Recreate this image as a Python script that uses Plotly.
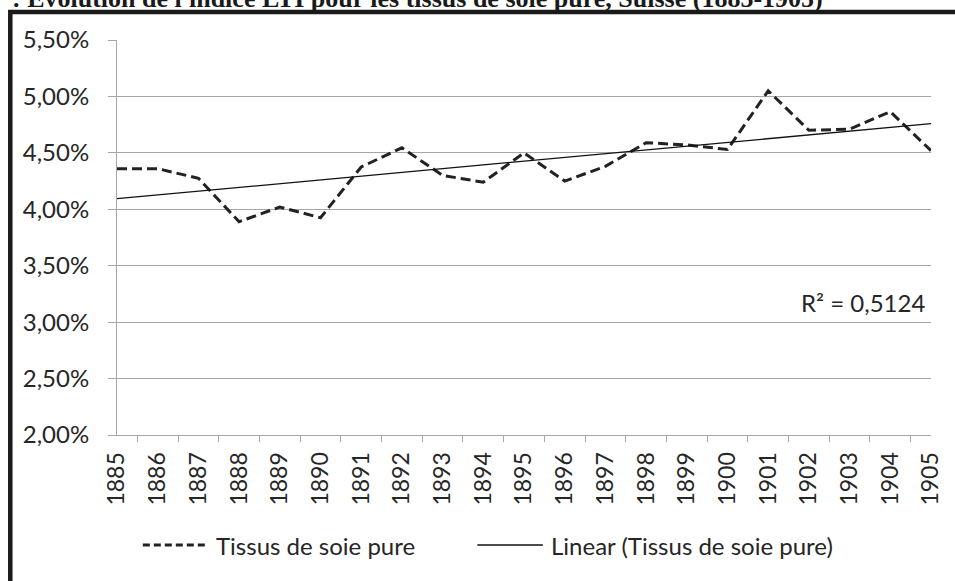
import numpy as np
import plotly.graph_objects as go

# ---- data ----
years = [str(y) for y in range(1885, 1906)]
soie_pure = [4.36, 4.36, 4.275, 3.89, 4.02, 3.925, 4.375, 4.545, 4.30, 4.24, 4.50,
             4.25, 4.38, 4.59, 4.57, 4.53, 5.05, 4.70, 4.71, 4.865, 4.52]  # percent
series_name = "Tissus de soie pure"
trend_name = "Linear (Tissus de soie pure)"
r2_label = "R² = 0,5124"
title_text = ": Evolution de l'indice LTI pour les tissus de soie pure, Suisse (1885-1905)"
y_ticks = [0.02, 0.025, 0.03, 0.035, 0.04, 0.045, 0.05, 0.055]

vals = np.array(soie_pure) / 100.0
idx = np.arange(len(years))
slope, intercept = np.polyfit(idx, vals, 1)
trend = intercept + slope * idx

W, H = 955, 581
L, R, T, B = 117, 18, 40, 146
pw, ph = W - L - R, H - T - B


def px(X):
    return (X - L) / pw


def py(Y):
    return (H - B - Y) / ph


font = "Lato, Calibri, Carlito, sans-serif"
txt = "#262626"
grid = "#a6a6a6"

fig = go.Figure()
fig.add_trace(go.Scatter(x=years, y=vals, mode="lines", name=series_name,
                         line=dict(color="#222222", width=3, dash="10px,5px"),
                         showlegend=False, hoverinfo="x+y"))
fig.add_trace(go.Scatter(x=years, y=trend, mode="lines", name=trend_name,
                         line=dict(color="#111111", width=1.3),
                         showlegend=False))

fig.update_layout(
    width=W, height=H,
    margin=dict(l=L, r=R, t=T, b=B, pad=0),
    paper_bgcolor="white", plot_bgcolor="white",
    separators=", ",
    font=dict(family=font, size=24, color=txt),
    showlegend=False,
)
fig.update_xaxes(type="category", showgrid=False, showline=True, linecolor=grid,
                 linewidth=1, ticks="outside", ticklen=6, tickcolor=grid,
                 tickson="boundaries", tickangle=-90, zeroline=False,
                 tickfont=dict(family=font, size=23, color=txt),
                 ticklabelstandoff=7)
fig.update_yaxes(range=[0.02, 0.055], tickvals=y_ticks, tickformat=".2%",
                 showgrid=True, gridcolor=grid, gridwidth=1, showline=True,
                 linecolor=grid, linewidth=1, ticks="outside", ticklen=8,
                 tickcolor=grid, zeroline=False,
                 tickfont=dict(family=font, size=24, color=txt),
                 ticklabelstandoff=14)

# R² label
fig.add_annotation(xref="paper", yref="paper", x=px(933), y=py(302),
                   xanchor="right", yanchor="middle", showarrow=False,
                   text=r2_label, font=dict(family=font, size=24, color=txt))

# Legend (drawn manually)
ly = py(545)
fig.add_shape(type="line", xref="paper", yref="paper", x0=px(143), x1=px(209),
              y0=ly, y1=ly, line=dict(color="#222222", width=3, dash="7px,4px"))
fig.add_annotation(xref="paper", yref="paper", x=px(215), y=ly, xanchor="left",
                   yanchor="middle", showarrow=False, text=series_name,
                   font=dict(family=font, size=24, color=txt))
fig.add_shape(type="line", xref="paper", yref="paper", x0=px(480), x1=px(546),
              y0=ly, y1=ly, line=dict(color="#111111", width=1.3))
fig.add_annotation(xref="paper", yref="paper", x=px(552), y=ly, xanchor="left",
                   yanchor="middle", showarrow=False, text=trend_name,
                   font=dict(family=font, size=24, color=txt))

# Clipped title at top (as in the reference, only its lower part is visible)
fig.add_annotation(xref="paper", yref="paper", x=px(830), y=py(15),
                   xanchor="right", yanchor="bottom", showarrow=False,
                   text="<b>" + title_text + "</b>",
                   font=dict(family="Liberation Serif, Times New Roman, serif",
                             size=26, color="#1a1a1a"))

# Thick frame (top and left edges)
fig.add_shape(type="path", xref="paper", yref="paper",
              path="M %f,%f L %f,%f L %f,%f" % (px(970), py(12), px(9.5), py(12),
                                                  px(9.5), py(600)),
              line=dict(color="#1a1a1a", width=4.5))

fig.write_html("out.html", config={"displayModeBar": False},
               post_script="document.body.style.margin='0';")
